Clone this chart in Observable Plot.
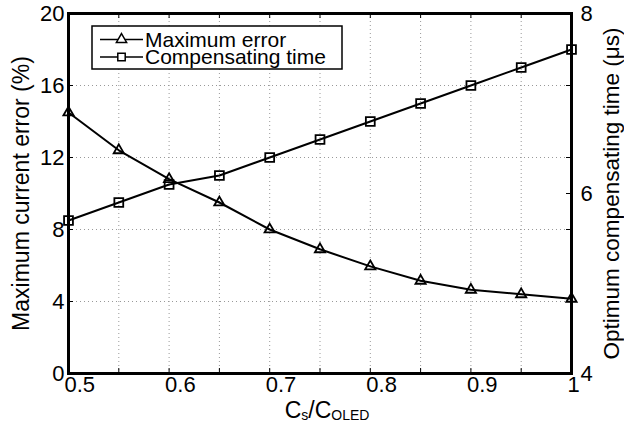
<!DOCTYPE html>
<html>
<head>
<meta charset="utf-8">
<script src="https://cdn.jsdelivr.net/npm/d3@7"></script>
<script src="https://cdn.jsdelivr.net/npm/@observablehq/plot@0.6"></script>
<style>
  body { margin: 0; background: white; }
  #chart { width: 624px; height: 430px; }
</style>
</head>
<body>
<div id="chart"></div>
<script>
// ---- data ----
const ratio = [0.5, 0.55, 0.6, 0.65, 0.7, 0.75, 0.8, 0.85, 0.9, 0.95, 1.0];
const maxError = [14.5, 12.4, 10.8, 9.5, 8.0, 6.9, 5.95, 5.15, 4.65, 4.4, 4.15];
const compTime = [5.7, 5.9, 6.1, 6.2, 6.4, 6.6, 6.8, 7.0, 7.2, 7.4, 7.6];
const xTickLabels = [0.5, 0.6, 0.7, 0.8, 0.9, 1];
const leftTicks = [0, 4, 8, 12, 16, 20];
const rightTicks = [4, 6, 8];
const seriesNames = ["Maximum error", "Compensating time"];

const data = ratio.map((x, i) => ({x, err: maxError[i], t: compTime[i]}));
// right axis (4..8 µs) mapped onto the left scale (0..20 %)
const toLeft = t => (t - 4) * 5;
const fromLeft = v => v / 5 + 4;

const FONT = "'Liberation Sans', Arial, Helvetica, sans-serif";
const W = 624, H = 430, ML = 68, MR = 53, MT = 13, MB = 57;
const PW = W - ML - MR, PH = H - MT - MB;
const gridStyle = {stroke: "#999", strokeOpacity: 1, strokeDasharray: "1,3", strokeWidth: 1};
const innerGridX = ratio.filter(v => v > 0.5 && v < 1);
const innerGridY = leftTicks.filter(v => v > 0 && v < 20);

const chart = Plot.plot({
  width: W, height: H,
  marginLeft: ML, marginRight: MR, marginTop: MT, marginBottom: MB,
  style: {fontFamily: FONT, fontSize: "22px", background: "white", color: "black"},
  x: {domain: [0.5, 1]},
  y: {domain: [0, 20]},
  marks: [
    Plot.gridX(innerGridX, gridStyle),
    Plot.gridY(innerGridY, gridStyle),
    // inward ticks
    Plot.tickX(ratio, {x: d => d, insetTop: PH - 5, stroke: "black", strokeWidth: 1}),
    Plot.tickX(ratio, {x: d => d, insetBottom: PH - 5, stroke: "black", strokeWidth: 1}),
    Plot.tickY(leftTicks, {y: d => d, insetRight: PW - 5, stroke: "black", strokeWidth: 1}),
    Plot.tickY(leftTicks.concat(rightTicks.map(toLeft)), {y: d => d, insetLeft: PW - 5, stroke: "black", strokeWidth: 1}),
    Plot.axisX({ticks: xTickLabels, tickSize: 0, tickPadding: 3, label: null, textAnchor: "start", dx: -4,
      tickFormat: d => d === 1 ? "1" : d.toFixed(1), fontSize: 22}),
    Plot.axisY({ticks: leftTicks, tickSize: 0, tickPadding: 4, label: null, fontSize: 22}),
    Plot.axisY({anchor: "right", ticks: rightTicks.map(toLeft), tickSize: 0, tickPadding: 9, label: null,
      tickFormat: d => String(fromLeft(d)), fontSize: 22}),
    Plot.line(data, {x: "x", y: "err", stroke: "black", strokeWidth: 2}),
    Plot.dot(data, {x: "x", y: "err", symbol: "triangle", r: 3.8, stroke: "black", strokeWidth: 1.8, fill: "none"}),
    Plot.line(data, {x: "x", y: d => toLeft(d.t), stroke: "black", strokeWidth: 2}),
    Plot.dot(data, {x: "x", y: d => toLeft(d.t), symbol: "square", r: 5, stroke: "black", strokeWidth: 1.8, fill: "none"}),
    Plot.frame({stroke: "black", strokeWidth: 3}),
    Plot.text(["Maximum current error (%)"], {text: d => d, frameAnchor: "left", textAnchor: "middle", lineAnchor: "middle", rotate: -90, dx: -47, fontSize: 23}),
    Plot.text(["Optimum compensating time (\u03bcs)"], {text: d => d, frameAnchor: "right", textAnchor: "middle", lineAnchor: "middle", rotate: -90, dx: 40, fontSize: 22.5})
  ]
});
document.getElementById("chart").appendChild(chart);

// legend and subscripted x label
const svg = d3.select(chart);
const lg = svg.append("g").attr("font-family", FONT).attr("font-size", 21).attr("text-anchor", "start");
lg.append("rect").attr("x", 92).attr("y", 26).attr("width", 250).attr("height", 43)
  .attr("fill", "white").attr("stroke", "black").attr("stroke-width", 1.5);
const symbols = [d3.symbolTriangle, d3.symbolSquare];
const sizes = [3.8 * 3.8 * Math.PI, 5 * 5 * Math.PI * 0.7];
seriesNames.forEach((name, i) => {
  const cy = 39.5 + i * 17.5;
  lg.append("line").attr("x1", 100).attr("x2", 143).attr("y1", cy).attr("y2", cy)
    .attr("stroke", "black").attr("stroke-width", 1.5);
  lg.append("path").attr("d", d3.symbol(symbols[i], sizes[i])())
    .attr("transform", `translate(121.5,${cy})`).attr("fill", "white").attr("stroke", "black").attr("stroke-width", 1.5);
  lg.append("text").attr("x", 145).attr("y", cy).attr("dy", "0.35em").text(name);
});

const xl = svg.append("text").attr("x", 327).attr("y", 418).attr("text-anchor", "middle")
  .attr("font-family", FONT).attr("font-size", 23).attr("fill", "black");
xl.append("tspan").text("C");
xl.append("tspan").attr("font-size", 14).attr("dy", 2).text("s");
xl.append("tspan").attr("dy", -2).text("/C");
xl.append("tspan").attr("font-size", 14).attr("dy", 2).text("OLED");
</script>
</body>
</html>
